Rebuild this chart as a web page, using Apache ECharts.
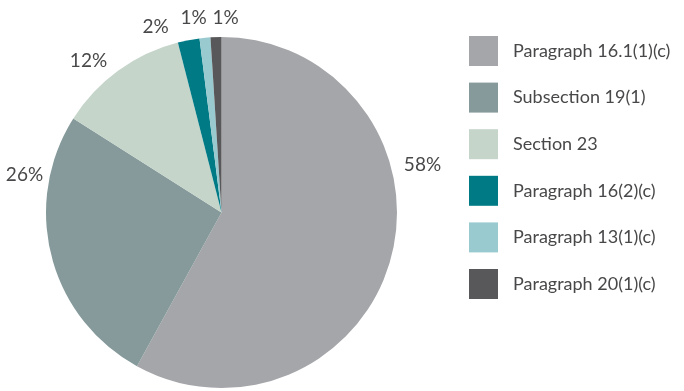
<!DOCTYPE html>
<html><head><meta charset="utf-8">
<script src="https://cdn.jsdelivr.net/npm/echarts@6/dist/echarts.min.js"></script>
<style>html,body{margin:0;padding:0;background:#fff}#c{width:684px;height:391px}</style>
</head><body><div id="c"></div>
<script>
const categories = ['Paragraph 16.1(1)(c)', 'Subsection 19(1)', 'Section 23', 'Paragraph 16(2)(c)', 'Paragraph 13(1)(c)', 'Paragraph 20(1)(c)'];
const values = [58, 26, 12, 2, 1, 1];
const colors = ['#a5a6a9', '#869a9b', '#c5d5ca', '#007b86', '#99cad0', '#58585a'];
// label offsets from pie center (px)
const labelOffsets = [[201, -48], [-197, -38], [-133, -152], [-66, -186], [-28, -195], [4, -195]];
const cx = 221.5, cy = 212.5;

const chart = echarts.init(document.getElementById('c'));
chart.setOption({
  animation: false,
  color: colors,
  legend: {
    orient: 'vertical', left: 464, top: 31,
    itemWidth: 29, itemHeight: 30, itemGap: 16.6, icon: 'rect',
    textStyle: { fontFamily: 'Lato', fontSize: 18, color: '#48484a', padding: [0, 0, 0, 10] },
    data: categories
  },
  series: [{
    type: 'pie',
    center: [cx, cy], radius: [0, 175.5],
    startAngle: 90, clockwise: true,
    avoidLabelOverlap: false,
    label: { show: true, position: 'outside', formatter: '{c}%', fontFamily: 'Lato', fontSize: 19, color: '#48484a' },
    labelLine: { show: false },
    labelLayout: function (p) {
      const o = labelOffsets[p.dataIndex];
      return { x: cx + o[0], y: cy + o[1], align: 'center', verticalAlign: 'middle' };
    },
    itemStyle: { borderWidth: 0 },
    emphasis: { disabled: true },
    data: categories.map((n, i) => ({ name: n, value: values[i] }))
  }]
});
</script></body></html>
